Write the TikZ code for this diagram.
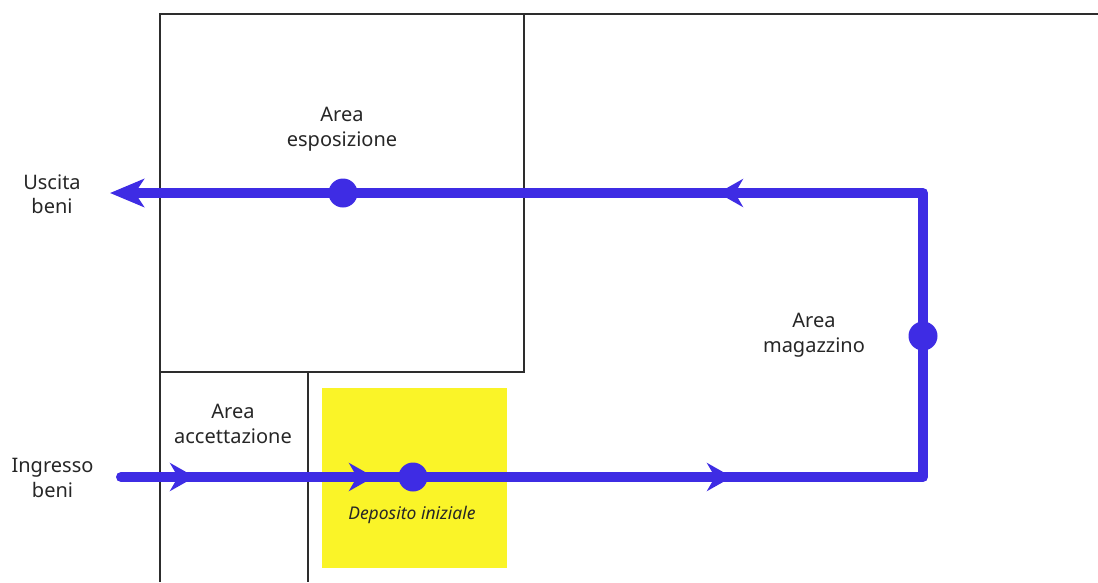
\documentclass[tikz,border=0pt]{standalone}
\usepackage{fontspec}
\setmainfont{Noto Sans}
\usetikzlibrary{arrows.meta,decorations.markings}
\definecolor{flowblue}{RGB}{62,44,228}
\definecolor{depyellow}{RGB}{250,244,40}
\definecolor{wallgray}{RGB}{45,45,45}
\tikzset{
  wall/.style={draw=wallgray,line width=2pt},
  flow/.style={draw=flowblue,line width=10pt,line join=round},
  flowdot/.style={circle,fill=flowblue,inner sep=0pt,minimum size=29pt},
  lbl/.style={inner sep=0pt,align=center,text=black!85,font=\fontsize{20}{25}\selectfont},
  midarrow/.style={postaction={decorate,decoration={markings,
    mark=at position 74pt with {\arrow{Stealth[length=25pt,width=28pt,inset=8pt]}},
    mark=at position 253pt with {\arrow{Stealth[length=25pt,width=28pt,inset=8pt]}},
    mark=at position 611pt with {\arrow{Stealth[length=25pt,width=28pt,inset=8pt]}},
    mark=at position 1291pt with {\arrow{Stealth[length=25pt,width=28pt,inset=8pt]}}}}}
}
\begin{document}
\begin{tikzpicture}[x=1pt,y=-1pt]
\useasboundingbox (0,0) rectangle (1098,582);
% walls
\draw[wall] (160,582) -- (160,14) -- (1098,14);
\draw[wall] (524,14) -- (524,372) -- (160,372);
\draw[wall] (308,372) -- (308,582);
% yellow deposit
\fill[depyellow] (322,388) rectangle (507,568);
% flow path
\coordinate (in) at (121,477);
\coordinate (c1) at (923,477);
\coordinate (c2) at (923,193);
\coordinate (out) at (110,193);
\draw[flow,line cap=round,midarrow,-{Stealth[length=34pt,width=28pt,inset=9pt]}] (in) -- (c1) -- (c2) -- (out);
% dots
\node[flowdot] (d1) at (343,193) {};
\node[flowdot] (d2) at (923,336) {};
\node[flowdot] (d3) at (413,477) {};
% labels
\node[lbl] (esp) at (342,129.5) {Area\\esposizione};
\node[lbl,font=\fontsize{20}{24}\selectfont] (usc) at (52,194) {Uscita\\beni};
\node[lbl] (mag) at (814,335.5) {Area\\magazzino};
\node[lbl] (acc) at (233,423.5) {Area\\accettazione};
\node[lbl] (ing) at (52.5,477.5) {Ingresso\\beni};
\node[inner sep=0pt,text=black!85,font=\fontsize{17.5}{20}\selectfont\itshape] (dep) at (412,514.5) {Deposito iniziale};
\end{tikzpicture}
\end{document}
